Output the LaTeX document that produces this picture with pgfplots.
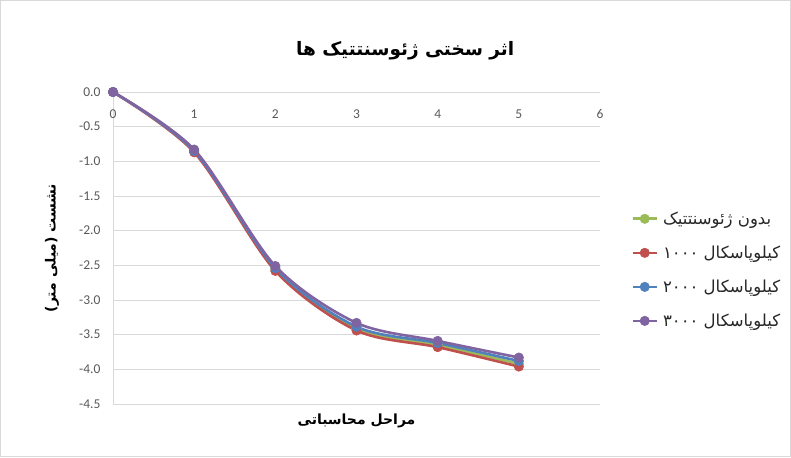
\documentclass[border=0pt]{standalone}
\usepackage{fontspec}
\usepackage{pgfplots}
\pgfplotsset{compat=1.18}
\setmainfont{Carlito}
\newfontfamily\fa[Script=Arabic]{DejaVu Sans}
\TeXXeTstate=1
\definecolor{cgreen}{HTML}{9BBB59}
\definecolor{cred}{HTML}{C0504D}
\definecolor{cblue}{HTML}{4F81BD}
\definecolor{cpurple}{HTML}{8064A2}
\definecolor{tickgray}{HTML}{595959}
\definecolor{gridgray}{HTML}{D9D9D9}
\begin{document}
\begin{tikzpicture}[x=1pt,y=1pt]
\useasboundingbox (0,0) rectangle (791,457);
\draw[gridgray, line width=0.8pt] (0.5,0.5) rectangle (790.5,456.5);
\begin{axis}[
  at={(113pt,53pt)}, anchor=south west,
  scale only axis, width=487pt, height=312pt,
  xmin=0, xmax=6, ymin=-4.5, ymax=0,
  xtick={0,1,2,3,4,5,6}, ytick={0,-0.5,-1,-1.5,-2,-2.5,-3,-3.5,-4,-4.5},
  axis x line*=top, axis y line*=left,
  axis line style={gridgray, line width=0.8pt},
  x axis line style={-}, y axis line style={-},
  ymajorgrids, grid style={gridgray, line width=0.8pt},
  major tick length=0pt,
  /pgf/number format/assume math mode=true,
  yticklabel style={/pgf/number format/fixed, /pgf/number format/fixed zerofill, /pgf/number format/precision=1, xshift=-9pt},
  ticklabel style={font=\fontsize{13.5}{15}\selectfont, text=tickgray},
  xticklabel style={anchor=north, yshift=-14pt},
  title={\fa\bfseries\fontsize{18.5}{22}\selectfont\beginR اثر سختی ژئوسنتتیک ها\endR},
  title style={at={(rel axis cs:0.6,1)}, yshift=22pt, anchor=south},
  xlabel={\fa\bfseries\fontsize{14}{16}\selectfont\beginR مراحل محاسباتی\endR},
  xlabel style={at={(rel axis cs:0.5,0)}, anchor=north, yshift=-6pt},
  ylabel={\fa\bfseries\fontsize{14}{16}\selectfont\beginR نشست (میلی متر)\endR},
  ylabel style={at={(rel axis cs:-0.125,0.5)}, anchor=center},
  legend style={draw=none, fill=none, at={(rel axis cs:1.058,0.43)}, anchor=west,
    font=\fa\fontsize{16.5}{18}\selectfont, row sep=16pt, text=black!85,
    nodes={inner xsep=5pt}},
  legend cell align=left,
  legend image code/.code={\draw[mark repeat=2, mark phase=2] plot coordinates {(0pt,0pt) (12pt,0pt) (24pt,0pt)};},
  every axis plot/.append style={line width=2.6pt, smooth, tension=0.5, mark=*, mark size=4.7pt},
  clip=false,
]
\addplot[cgreen, mark options={solid, fill=cgreen, draw=cgreen, line width=0.6pt}] coordinates {(0,0) (1,-0.85) (2,-2.55) (3,-3.41) (4,-3.65) (5,-3.92)};
\addlegendentry{\beginR بدون ژئوسنتتیک\endR}
\addplot[cred, mark options={solid, fill=cred, draw=cred, line width=0.6pt}] coordinates {(0,0) (1,-0.87) (2,-2.58) (3,-3.44) (4,-3.68) (5,-3.96)};
\addlegendentry{۱۰۰۰ \beginR کیلوپاسکال\endR}
\addplot[cblue, mark options={solid, fill=cblue, draw=cblue, line width=0.6pt}] coordinates {(0,0) (1,-0.85) (2,-2.54) (3,-3.385) (4,-3.62) (5,-3.88)};
\addlegendentry{۲۰۰۰ \beginR کیلوپاسکال\endR}
\addplot[cpurple, mark options={solid, fill=cpurple, draw=cpurple, line width=0.6pt}] coordinates {(0,0) (1,-0.83) (2,-2.51) (3,-3.33) (4,-3.59) (5,-3.83)};
\addlegendentry{۳۰۰۰ \beginR کیلوپاسکال\endR}
\end{axis}
\end{tikzpicture}
\end{document}
